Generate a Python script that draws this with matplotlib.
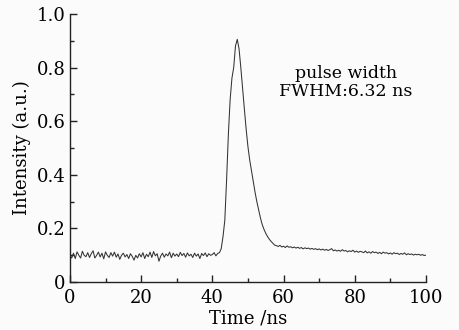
import numpy as np
import matplotlib
matplotlib.use("Agg")
import matplotlib.pyplot as plt
from matplotlib.ticker import MultipleLocator, FixedLocator, FixedFormatter

# Sample times (ns), 0.5 ns step
time_ns = np.arange(0, 100.5, 0.5)

baseline = [
    0.10, 0.09, 0.108, 0.088, 0.113, 0.10, 0.09, 0.115, 0.10, 0.095,
    0.11, 0.092, 0.106, 0.117, 0.09, 0.10, 0.112, 0.094, 0.108, 0.087,
    0.113, 0.10, 0.092, 0.11, 0.097, 0.112, 0.093, 0.105, 0.085, 0.10,
    0.108, 0.094, 0.103, 0.088, 0.106, 0.096, 0.082, 0.10, 0.09, 0.106,
    0.094, 0.11, 0.088, 0.104, 0.095, 0.112, 0.092, 0.114, 0.098, 0.106,
    0.078, 0.097, 0.108, 0.093, 0.105, 0.098, 0.112, 0.091, 0.108, 0.097,
    0.105, 0.095, 0.111, 0.099, 0.107, 0.093, 0.109, 0.098, 0.104, 0.092,
    0.108, 0.097, 0.105, 0.088, 0.107, 0.099, 0.109, 0.095, 0.106, 0.10,
    0.103, 0.11, 0.098, 0.107,
]
pulse = [
    0.11, 0.125, 0.17, 0.23, 0.38, 0.55, 0.68, 0.76, 0.80, 0.88,
    0.905, 0.87, 0.80, 0.72, 0.645, 0.57, 0.505, 0.455, 0.415, 0.375,
    0.335, 0.30, 0.27, 0.24, 0.215, 0.197, 0.182, 0.17, 0.16, 0.152,
    0.145, 0.138,
]
tail = [
    0.136, 0.133, 0.137, 0.131, 0.134, 0.129, 0.135, 0.130, 0.132, 0.128,
    0.131, 0.127, 0.130, 0.126, 0.129, 0.124, 0.128, 0.125, 0.127, 0.123,
    0.126, 0.122, 0.125, 0.121, 0.124, 0.120, 0.123, 0.119, 0.122, 0.118,
    0.121, 0.125, 0.117, 0.120, 0.116, 0.119, 0.115, 0.121, 0.116, 0.118,
    0.113, 0.117, 0.114, 0.119, 0.112, 0.116, 0.111, 0.115, 0.113, 0.110,
    0.116, 0.109, 0.113, 0.108, 0.114, 0.110, 0.112, 0.107, 0.111, 0.106,
    0.112, 0.108, 0.110, 0.105, 0.109, 0.104, 0.110, 0.106, 0.108, 0.103,
    0.107, 0.104, 0.109, 0.102, 0.106, 0.103, 0.105, 0.101, 0.104, 0.102,
    0.104, 0.100, 0.103, 0.099, 0.101,
]
intensity = np.array(baseline + pulse + tail)

x_ticks = [0, 20, 40, 60, 80, 100]
x_labels = ["0", "20", "40", "60", "80", "100"]
y_ticks = [0, 0.2, 0.4, 0.6, 0.8, 1.0]
y_labels = ["0", "0.2", "0.4", "0.6", "0.8", "1.0"]

plt.rcParams['font.family'] = ['DejaVu Serif']
bg = '#fbfbfb'
fig = plt.figure(figsize=(4.6, 3.3), dpi=100, facecolor=bg)
ax = fig.add_axes([0.152, 0.145, 0.774, 0.813], facecolor=bg)

ax.plot(time_ns, intensity, color='#333333', lw=0.75)

ax.set_xlim(0, 100)
ax.set_ylim(0, 1.0)
for s in ['top', 'right']:
    ax.spines[s].set_visible(False)
for s in ['left', 'bottom']:
    ax.spines[s].set_linewidth(1.0)
    ax.spines[s].set_color('#222222')

ax.xaxis.set_major_locator(FixedLocator(x_ticks))
ax.xaxis.set_major_formatter(FixedFormatter(x_labels))
ax.yaxis.set_major_locator(FixedLocator(y_ticks))
ax.yaxis.set_major_formatter(FixedFormatter(y_labels))
ax.xaxis.set_minor_locator(MultipleLocator(10))
ax.yaxis.set_minor_locator(MultipleLocator(0.1))
ax.tick_params(which='major', direction='in', length=5, width=1.0, labelsize=13, color='#222222')
ax.tick_params(axis='x', which='major', pad=5)
ax.tick_params(axis='y', which='major', pad=3)
ax.tick_params(which='minor', direction='in', length=3, width=1.0, color='#222222')

ax.set_xlabel('Time /ns', fontsize=13, labelpad=2)
ax.set_ylabel('Intensity (a.u.)', fontsize=13, labelpad=4)

ax.text(77.5, 0.745, 'pulse width\nFWHM:6.32 ns', fontsize=12.5, ha='center', va='center', linespacing=1.05)

fig.savefig('out.png', dpi=100, facecolor=bg)
